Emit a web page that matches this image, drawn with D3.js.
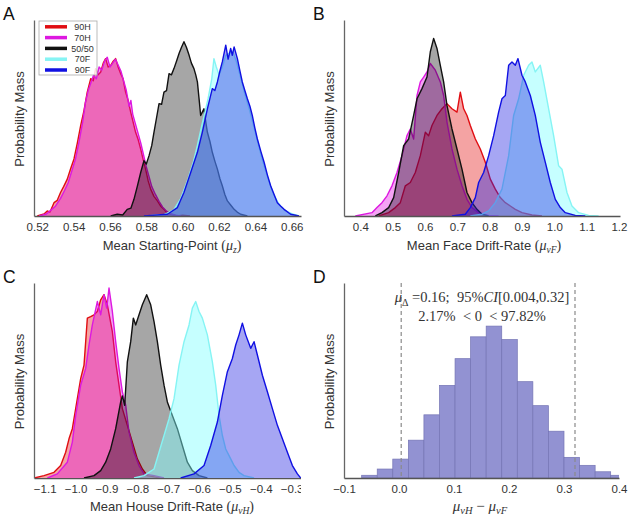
<!DOCTYPE html>
<html><head><meta charset="utf-8">
<script src="https://cdn.jsdelivr.net/npm/d3@7"></script>
<style>body{margin:0;background:#fff}svg{display:block}text{white-space:pre}</style>
</head><body><svg id="c" width="631" height="520"></svg>
<script>
// ---------- DATA ----------
const seriesNames = ["90H", "70H", "50/50", "70F", "90F"];

// Panel A: Mean Starting-Point (mu_z)  [x, relative probability mass]
const startH90 = [[0.5200,0],[0.5237,0.010],[0.5255,0.026],[0.5270,0.020],[0.5292,0.068],[0.5310,0.080],[0.5328,0.120],[0.5345,0.150],[0.5365,0.188],[0.5383,0.240],[0.5402,0.291],[0.5420,0.370],[0.5439,0.462],[0.5457,0.538],[0.5475,0.632],[0.5494,0.701],[0.5508,0.690],[0.5521,0.752],[0.5535,0.720],[0.5549,0.735],[0.5563,0.780],[0.5576,0.803],[0.5590,0.760],[0.5604,0.769],[0.5618,0.790],[0.5631,0.803],[0.5645,0.760],[0.5659,0.726],[0.5672,0.700],[0.5686,0.632],[0.5700,0.590],[0.5714,0.530],[0.5727,0.480],[0.5741,0.427],[0.5755,0.390],[0.5769,0.342],[0.5782,0.290],[0.5796,0.239],[0.5810,0.180],[0.5824,0.137],[0.5842,0.100],[0.5861,0.077],[0.5879,0.050],[0.5897,0.034],[0.5915,0.015],[0.5934,0.009],[0.5971,0],[0.6000,0.004],[0.6040,0]];
const startH70 = [[0.5210,0],[0.5250,0.010],[0.5275,0.030],[0.5300,0.050],[0.5328,0.090],[0.5350,0.130],[0.5370,0.170],[0.5390,0.230],[0.5410,0.290],[0.5430,0.380],[0.5450,0.480],[0.5465,0.580],[0.5480,0.640],[0.5495,0.680],[0.5510,0.720],[0.5525,0.700],[0.5540,0.760],[0.5555,0.745],[0.5570,0.790],[0.5585,0.810],[0.5600,0.760],[0.5615,0.780],[0.5630,0.800],[0.5645,0.770],[0.5660,0.740],[0.5675,0.690],[0.5690,0.640],[0.5705,0.560],[0.5715,0.590],[0.5725,0.520],[0.5740,0.470],[0.5755,0.420],[0.5770,0.370],[0.5785,0.310],[0.5800,0.250],[0.5815,0.200],[0.5830,0.150],[0.5850,0.110],[0.5870,0.075],[0.5890,0.045],[0.5910,0.025],[0.5935,0.012],[0.5960,0.004],[0.5990,0]];
const start5050 = [[0.5604,0],[0.5640,0.009],[0.5670,0.005],[0.5695,0.034],[0.5715,0.040],[0.5732,0.085],[0.5750,0.150],[0.5769,0.222],[0.5787,0.282],[0.5800,0.265],[0.5815,0.308],[0.5830,0.360],[0.5842,0.427],[0.5856,0.500],[0.5870,0.573],[0.5884,0.570],[0.5897,0.632],[0.5911,0.640],[0.5925,0.726],[0.5938,0.720],[0.5952,0.752],[0.5966,0.790],[0.5980,0.829],[0.5993,0.860],[0.6007,0.889],[0.6021,0.860],[0.6035,0.821],[0.6048,0.780],[0.6062,0.752],[0.6072,0.720],[0.6081,0.684],[0.6090,0.600],[0.6099,0.513],[0.6108,0.530],[0.6117,0.547],[0.6127,0.480],[0.6136,0.427],[0.6150,0.380],[0.6163,0.325],[0.6177,0.280],[0.6191,0.239],[0.6205,0.190],[0.6218,0.154],[0.6232,0.110],[0.6246,0.077],[0.6265,0.055],[0.6283,0.034],[0.6300,0.020],[0.6319,0.009],[0.6356,0]];
const startF70 = [[0.5800,0],[0.5900,0.008],[0.5950,0.030],[0.5990,0.090],[0.6030,0.190],[0.6060,0.280],[0.6081,0.360],[0.6100,0.440],[0.6120,0.520],[0.6140,0.600],[0.6160,0.700],[0.6172,0.803],[0.6185,0.760],[0.6200,0.720],[0.6218,0.760],[0.6237,0.820],[0.6255,0.830],[0.6275,0.840],[0.6295,0.790],[0.6315,0.720],[0.6340,0.630],[0.6365,0.550],[0.6390,0.460],[0.6415,0.370],[0.6440,0.280],[0.6470,0.190],[0.6500,0.110],[0.6530,0.060],[0.6560,0.030],[0.6600,0.012],[0.6640,0]];
const startF90 = [[0.5787,0],[0.5916,0.009],[0.5971,0.043],[0.6007,0.120],[0.6044,0.222],[0.6081,0.325],[0.6108,0.427],[0.6136,0.547],[0.6150,0.600],[0.6163,0.650],[0.6177,0.640],[0.6191,0.684],[0.6205,0.740],[0.6218,0.786],[0.6237,0.872],[0.6250,0.800],[0.6264,0.855],[0.6273,0.820],[0.6283,0.863],[0.6301,0.803],[0.6315,0.740],[0.6328,0.684],[0.6342,0.640],[0.6356,0.598],[0.6370,0.560],[0.6383,0.513],[0.6397,0.450],[0.6411,0.393],[0.6430,0.330],[0.6448,0.274],[0.6466,0.210],[0.6484,0.154],[0.6503,0.110],[0.6521,0.068],[0.6540,0.050],[0.6558,0.034],[0.6594,0.009],[0.6640,0]];

// Panel B: Mean Face Drift-Rate (mu_vF)
const faceH90 = [[0.4567,0],[0.4876,0.017],[0.5082,0.043],[0.5237,0.068],[0.5392,0.154],[0.5546,0.171],[0.5701,0.222],[0.5856,0.308],[0.6010,0.427],[0.6113,0.410],[0.6216,0.462],[0.6371,0.513],[0.6526,0.547],[0.6680,0.573],[0.6835,0.547],[0.6990,0.530],[0.7093,0.632],[0.7196,0.547],[0.7299,0.513],[0.7402,0.462],[0.7557,0.393],[0.7711,0.342],[0.7866,0.274],[0.8021,0.188],[0.8175,0.137],[0.8330,0.094],[0.8485,0.068],[0.8639,0.051],[0.8794,0.034],[0.9000,0.017],[0.9309,0.005],[0.9619,0]];
const faceH70 = [[0.3845,0],[0.4361,0.017],[0.4515,0.043],[0.4670,0.068],[0.4825,0.103],[0.4979,0.154],[0.5134,0.222],[0.5289,0.308],[0.5443,0.410],[0.5546,0.444],[0.5649,0.393],[0.5753,0.615],[0.5856,0.684],[0.5959,0.709],[0.6062,0.735],[0.6165,0.778],[0.6320,0.744],[0.6474,0.684],[0.6577,0.615],[0.6680,0.479],[0.6835,0.342],[0.6990,0.239],[0.7144,0.154],[0.7299,0.085],[0.7454,0.043],[0.7660,0.017],[0.7969,0.003],[0.8278,0]];
const face5050 = [[0.4464,0],[0.4670,0.017],[0.4876,0.043],[0.5031,0.094],[0.5186,0.222],[0.5340,0.359],[0.5495,0.393],[0.5649,0.513],[0.5753,0.598],[0.5907,0.650],[0.6062,0.709],[0.6165,0.838],[0.6268,0.906],[0.6371,0.855],[0.6474,0.769],[0.6577,0.684],[0.6680,0.564],[0.6835,0.444],[0.6990,0.342],[0.7144,0.239],[0.7299,0.120],[0.7454,0.068],[0.7608,0.034],[0.7763,0.009],[0.7969,0]];
const faceF70 = [[0.7402,0],[0.7763,0.009],[0.7969,0.026],[0.8175,0.068],[0.8381,0.137],[0.8588,0.308],[0.8742,0.513],[0.8897,0.598],[0.9052,0.718],[0.9206,0.769],[0.9309,0.786],[0.9412,0.735],[0.9567,0.769],[0.9670,0.684],[0.9825,0.547],[0.9979,0.410],[1.0134,0.256],[1.0237,0.239],[1.0392,0.120],[1.0546,0.051],[1.0753,0.017],[1.1062,0.003],[1.1371,0]];
const faceF90 = [[0.6835,0],[0.7247,0.009],[0.7402,0.043],[0.7557,0.094],[0.7660,0.171],[0.7814,0.222],[0.7969,0.308],[0.8124,0.410],[0.8278,0.530],[0.8381,0.598],[0.8485,0.615],[0.8588,0.769],[0.8691,0.786],[0.8794,0.769],[0.8876,0.803],[0.9000,0.718],[0.9103,0.684],[0.9258,0.615],[0.9412,0.513],[0.9567,0.376],[0.9722,0.274],[0.9876,0.171],[1.0031,0.085],[1.0186,0.043],[1.0340,0.017],[1.0649,0.003],[1.0959,0]];

// Panel C: Mean House Drift-Rate (mu_vH)
const houseH90 = [[-1.1346,0],[-1.1022,0.012],[-1.0698,0.029],[-1.0482,0.064],[-1.0320,0.132],[-1.0212,0.201],[-1.0104,0.253],[-0.9996,0.356],[-0.9888,0.459],[-0.9834,0.510],[-0.9726,0.579],[-0.9672,0.699],[-0.9618,0.820],[-0.9510,0.828],[-0.9402,0.837],[-0.9294,0.854],[-0.9186,0.914],[-0.9078,0.940],[-0.8970,0.888],[-0.8808,0.751],[-0.8700,0.596],[-0.8592,0.476],[-0.8484,0.356],[-0.8322,0.270],[-0.8160,0.184],[-0.7998,0.098],[-0.7836,0.046],[-0.7674,0.012],[-0.7242,0]];
const houseH70 = [[-1.0914,0],[-1.0590,0.021],[-1.0266,0.081],[-1.0104,0.184],[-0.9996,0.321],[-0.9834,0.476],[-0.9672,0.562],[-0.9564,0.682],[-0.9456,0.785],[-0.9294,0.905],[-0.9186,0.837],[-0.9078,0.940],[-0.8991,0.871],[-0.8916,0.974],[-0.8808,0.854],[-0.8700,0.699],[-0.8592,0.562],[-0.8484,0.442],[-0.8376,0.373],[-0.8268,0.235],[-0.8106,0.132],[-0.7944,0.064],[-0.7782,0.021],[-0.7458,0.012],[-0.7134,0]];
const house5050 = [[-0.9726,0],[-0.9402,0.012],[-0.9186,0.038],[-0.9024,0.081],[-0.8862,0.149],[-0.8700,0.253],[-0.8538,0.390],[-0.8484,0.421],[-0.8408,0.373],[-0.8322,0.596],[-0.8214,0.699],[-0.8128,0.820],[-0.8052,0.785],[-0.7944,0.837],[-0.7836,0.888],[-0.7696,0.940],[-0.7566,0.888],[-0.7458,0.802],[-0.7350,0.699],[-0.7242,0.579],[-0.7134,0.476],[-0.7026,0.390],[-0.6864,0.321],[-0.6702,0.253],[-0.6540,0.167],[-0.6378,0.081],[-0.6216,0.038],[-0.6000,0.012],[-0.5730,0]];
const houseF70 = [[-0.8106,0],[-0.7782,0.012],[-0.7458,0.046],[-0.7296,0.132],[-0.7134,0.218],[-0.6972,0.304],[-0.6810,0.407],[-0.6648,0.579],[-0.6486,0.699],[-0.6324,0.785],[-0.6216,0.871],[-0.6108,0.905],[-0.6000,0.854],[-0.5892,0.820],[-0.5730,0.734],[-0.5568,0.596],[-0.5460,0.476],[-0.5352,0.321],[-0.5244,0.218],[-0.5136,0.149],[-0.4974,0.098],[-0.4866,0.064],[-0.4704,0.029],[-0.4542,0.012],[-0.4218,0]];
const houseF90 = [[-0.6594,0],[-0.6162,0.021],[-0.5838,0.064],[-0.5622,0.167],[-0.5406,0.287],[-0.5244,0.424],[-0.5082,0.545],[-0.4920,0.613],[-0.4812,0.682],[-0.4704,0.734],[-0.4596,0.794],[-0.4488,0.734],[-0.4326,0.665],[-0.4218,0.699],[-0.4110,0.631],[-0.3948,0.527],[-0.3786,0.442],[-0.3624,0.356],[-0.3462,0.270],[-0.3300,0.201],[-0.3138,0.132],[-0.2976,0.064],[-0.2814,0.021],[-0.2706,0]];

// Panel D: posterior of mu_vH - mu_vF (histogram)
const diffEdges = [-0.0679,-0.0396,-0.0113,0.0170,0.0453,0.0736,0.1019,0.1302,0.1585,0.1868,0.2151,0.2434,0.2717,0.3000,0.3283,0.3566,0.3849,0.4132];
const diffMass = [0.014,0.046,0.097,0.194,0.324,0.475,0.612,0.724,0.779,0.710,0.494,0.371,0.240,0.106,0.065,0.032,0.014];
const diffCI = [0.004, 0.32];

const ticksA = [0.52,0.54,0.56,0.58,0.60,0.62,0.64,0.66];
const ticksB = [0.4,0.5,0.6,0.7,0.8,0.9,1.0,1.1,1.2];
const ticksC = [-1.1,-1.0,-0.9,-0.8,-0.7,-0.6,-0.5,-0.4,-0.3];
const ticksD = [-0.1,0.0,0.1,0.2,0.3,0.4];

// ---------- STYLE ----------
const lineColors = ["#e00d12", "#dd18e0", "#111111", "#86f4f4", "#1010e2"];
const fillColors = ["#e00000", "#e000e0", "#000000", "#80ffff", "#2020e0"];
const fillAlpha = [0.36, 0.36, 0.35, 0.45, 0.4];
const SANS = "'Liberation Sans', Arial, Helvetica, sans-serif";
const SERIF = "'Liberation Serif', 'Times New Roman', serif";

const svg = d3.select("#c");
const defs = svg.append("defs");

function makePanel(cfg) {
  const x = d3.scaleLinear().domain(cfg.domain).range([cfg.left, cfg.right]);
  const y = d3.scaleLinear().domain([0, 1]).range([cfg.bottom, cfg.top]);
  defs.append("clipPath").attr("id", "clip" + cfg.id)
    .append("rect").attr("x", cfg.left).attr("y", cfg.top - 20)
    .attr("width", cfg.right - cfg.left).attr("height", cfg.bottom - cfg.top + 20);
  const g = svg.append("g");
  const plot = g.append("g").attr("clip-path", "url(#clip" + cfg.id + ")");

  // x axis
  const ax = g.append("g").attr("transform", `translate(0,${cfg.bottom})`)
    .call(d3.axisBottom(x).tickValues(cfg.ticks).tickFormat(d3.format(cfg.fmt))
      .tickSizeInner(0).tickSizeOuter(0).tickPadding(7));
  ax.attr("font-family", SANS).attr("font-size", 11.5);
  ax.selectAll("text").attr("fill", "#333");
  ax.select(".domain").attr("stroke", "#555").attr("stroke-width", 1.3);
  if (cfg.axisClip) {
    defs.append("clipPath").attr("id", "aclip" + cfg.id).append("rect")
      .attr("x", 0).attr("y", 0).attr("width", cfg.axisClip).attr("height", 520);
    ax.attr("clip-path", "url(#aclip" + cfg.id + ")");
  }
  // y axis (spine only)
  const ay = g.append("g").attr("transform", `translate(${cfg.left},0)`)
    .call(d3.axisLeft(y).tickValues([]).tickSizeOuter(0));
  ay.select(".domain").attr("stroke", "#666").attr("stroke-width", 1.3);

  // y label
  g.append("text").attr("transform", `translate(${cfg.left - 10},${(cfg.top + cfg.bottom) / 2 + 1}) rotate(-90)`)
    .attr("text-anchor", "middle").attr("font-family", SANS).attr("font-size", 13)
    .attr("fill", "#333").text("Probability Mass");
  // panel letter
  g.append("text").attr("x", cfg.left - 31).attr("y", cfg.top).attr("font-family", SANS)
    .attr("font-size", 17.5).attr("fill", "#111").text(cfg.letter);
  return { x, y, g, plot };
}

function drawDensities(p, series) {
  const area = d3.area().x(d => p.x(d[0])).y0(p.y(0)).y1(d => p.y(d[1]));
  const line = d3.line().x(d => p.x(d[0])).y(d => p.y(d[1]));
  series.forEach((s, i) => {
    p.plot.append("path").datum(s).attr("d", area)
      .attr("fill", fillColors[i]).attr("fill-opacity", fillAlpha[i]);
    p.plot.append("path").datum(s).attr("d", line)
      .attr("fill", "none").attr("stroke", lineColors[i]).attr("stroke-width", 1.4)
      .attr("stroke-linejoin", "round");
  });
}

function xLabel(cx, cy, main, sub) {
  const t = svg.append("text").attr("x", cx).attr("y", cy).attr("text-anchor", "middle")
    .attr("font-family", SANS).attr("font-size", 13).attr("fill", "#333");
  t.append("tspan").text(main + " ");
  t.append("tspan").attr("font-family", SERIF).attr("font-size", 14).text("(");
  t.append("tspan").attr("font-family", SERIF).attr("font-style", "italic").attr("font-size", 14).text("μ");
  t.append("tspan").attr("font-family", SERIF).attr("font-style", "italic").attr("font-size", 9.5).attr("dy", 3).text(sub);
  t.append("tspan").attr("font-family", SERIF).attr("font-size", 14).attr("dy", -3).text(")");
}

// ----- Panel A -----
const pA = makePanel({ id: "A", letter: "A", domain: [0.5182, 0.6651], left: 34, right: 301, top: 20, bottom: 216, ticks: ticksA, fmt: ".2f" });
drawDensities(pA, [startH90, startH70, start5050, startF70, startF90]);
xLabel(172, 250, "Mean Starting-Point", "z");

// legend
const lg = svg.append("g");
lg.append("rect").attr("x", 39).attr("y", 21).attr("width", 58).attr("height", 54)
  .attr("fill", "#fff").attr("fill-opacity", 0.85).attr("stroke", "#aaa").attr("stroke-width", 0.8);
seriesNames.forEach((n, i) => {
  const yy = 26.8 + i * 10.8;
  lg.append("line").attr("x1", 45).attr("x2", 67).attr("y1", yy).attr("y2", yy)
    .attr("stroke", lineColors[i]).attr("stroke-width", 3.5);
  lg.append("text").attr("x", 82.5).attr("y", yy + 3.2).attr("text-anchor", "middle")
    .attr("font-family", SANS).attr("font-size", 9).attr("fill", "#333").text(n);
});

// ----- Panel B -----
const pB = makePanel({ id: "B", letter: "B", domain: [0.3495, 1.2032], left: 344, right: 620, top: 20, bottom: 216, ticks: ticksB, fmt: ".1f" });
drawDensities(pB, [faceH90, faceH70, face5050, faceF70, faceF90]);
xLabel(484, 250, "Mean Face Drift-Rate", "vF");

// ----- Panel C -----
const pC = makePanel({ id: "C", letter: "C", domain: [-1.1346, -0.2697], left: 34, right: 301, top: 283, bottom: 478, ticks: ticksC, fmt: ".1f", axisClip: 301 });
drawDensities(pC, [houseH90, houseH70, house5050, houseF70, houseF90]);
xLabel(172, 511, "Mean House Drift-Rate", "vH");

// ----- Panel D -----
const pD = makePanel({ id: "D", letter: "D", domain: [-0.1, 0.4], left: 344, right: 619, top: 283, bottom: 478, ticks: ticksD, fmt: ".1f" });
const bins = diffMass.map((m, i) => ({ x0: diffEdges[i], x1: diffEdges[i + 1], m }));
pD.plot.selectAll("rect.bar").data(bins).enter().append("rect").attr("class", "bar")
  .attr("x", d => pD.x(d.x0)).attr("width", d => pD.x(d.x1) - pD.x(d.x0))
  .attr("y", d => pD.y(d.m)).attr("height", d => pD.y(0) - pD.y(d.m))
  .attr("fill", "#9292d2").attr("stroke", "#7474b4").attr("stroke-width", 0.7);
diffCI.forEach(v => {
  pD.g.append("line").attr("x1", pD.x(v)).attr("x2", pD.x(v)).attr("y1", pD.y(1)).attr("y2", pD.y(0))
    .attr("stroke", "#8a8a8a").attr("stroke-width", 1.2).attr("stroke-dasharray", "4,3");
});
// annotation
const t1 = svg.append("text").attr("x", 482).attr("y", 302).attr("text-anchor", "middle")
  .attr("font-family", SERIF).attr("font-size", 14.5).attr("fill", "#333");
t1.append("tspan").attr("font-style", "italic").text("μ");
t1.append("tspan").attr("font-size", 10).attr("dy", 4).text("Δ");
t1.append("tspan").attr("dy", -4).text(" =0.16;  95%");
t1.append("tspan").attr("font-style", "italic").text("CI");
t1.append("tspan").text("[0.004,0.32]");
svg.append("text").attr("x", 482).attr("y", 321).attr("text-anchor", "middle")
  .attr("font-family", SERIF).attr("font-size", 14.5).attr("fill", "#333")
  .text("2.17%  < 0  < 97.82%");
const t3 = svg.append("text").attr("x", 480).attr("y", 511).attr("text-anchor", "middle")
  .attr("font-family", SERIF).attr("font-size", 15).attr("fill", "#333");
t3.append("tspan").attr("font-style", "italic").text("μ");
t3.append("tspan").attr("font-style", "italic").attr("font-size", 10.5).attr("dy", 3).text("vH");
t3.append("tspan").attr("dy", -3).text(" − ");
t3.append("tspan").attr("font-style", "italic").text("μ");
t3.append("tspan").attr("font-style", "italic").attr("font-size", 10.5).attr("dy", 3).text("vF");
</script>
</body></html>
